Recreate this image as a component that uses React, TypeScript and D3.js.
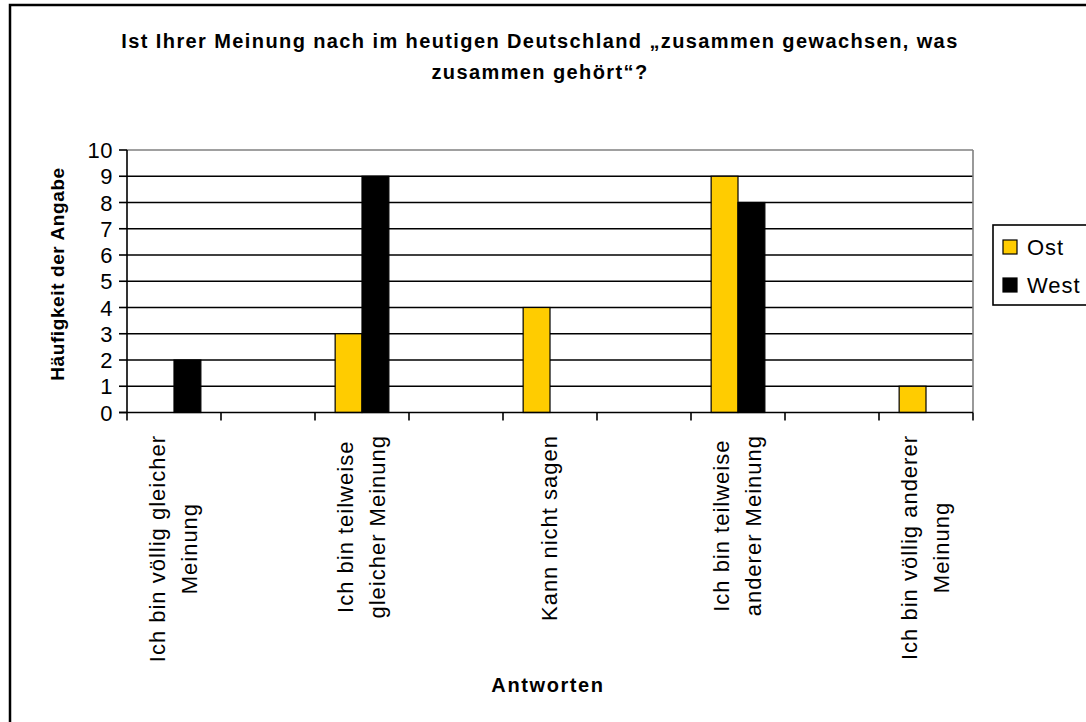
import React, { useEffect, useRef } from 'react'
import * as d3 from 'd3'

// categories (every other label is left blank, as in the original chart)
const categoryLabels = [
  'Ich bin völlig gleicher\nMeinung',
  '',
  'Ich bin teilweise\ngleicher Meinung',
  '',
  'Kann nicht sagen',
  '',
  'Ich bin teilweise\nanderer Meinung',
  '',
  'Ich bin völlig anderer\nMeinung',
]
const seriesNames = ['Ost', 'West']
const ostValues = [0, 0, 3, 0, 4, 0, 9, 0, 1]
const westValues = [2, 0, 9, 0, 0, 0, 8, 0, 0]
const yTickValues = [0, 1, 2, 3, 4, 5, 6, 7, 8, 9, 10]
const titleLines = ['Ist Ihrer Meinung nach im heutigen Deutschland „zusammen gewachsen, was', 'zusammen gehört“?']
const yAxisTitle = 'Häufigkeit der Angabe'
const xAxisTitle = 'Antworten'

const colors: Record<string, string> = { Ost: '#FFCC00', West: '#000000' }
const FONT = "'Liberation Sans', Arial, sans-serif"

const W = 1086
const H = 722
const plot = { left: 127, right: 973, top: 150, bottom: 412.5 }

const App = () => {
  const ref = useRef<SVGSVGElement>(null)

  useEffect(() => {
    const svg = d3.select(ref.current)
    svg.selectAll('*').remove()

    const idx = categoryLabels.map((_, i) => String(i))
    const x = d3.scaleBand().domain(idx).range([plot.left, plot.right]).paddingInner(0).paddingOuter(0)
    const xs = d3.scaleBand().domain(seriesNames).range([0, x.bandwidth()]).paddingInner(0).paddingOuter(0.75)
    const y = d3.scaleLinear().domain([0, 10]).range([plot.bottom, plot.top])

    // outer chart border (cropped at right / bottom)
    svg.append('rect')
      .attr('x', 10).attr('y', 5).attr('width', W + 20).attr('height', H + 20)
      .attr('fill', 'white').attr('stroke', '#000').attr('stroke-width', 2.5)

    // title
    const title = svg.append('g').attr('font-family', FONT).attr('font-weight', 'bold')
      .attr('font-size', 20).attr('letter-spacing', 1.4).attr('text-anchor', 'middle')
    titleLines.forEach((t, i) => {
      title.append('text').attr('x', 540).attr('y', 48 + i * 31).text(t)
    })

    // gridlines
    svg.append('g').selectAll('line').data(yTickValues.filter(v => v > 0)).join('line')
      .attr('x1', plot.left).attr('x2', plot.right)
      .attr('y1', d => y(d)).attr('y2', d => y(d))
      .attr('stroke', d => (d === 10 ? '#808080' : '#000')).attr('stroke-width', 1.6)

    // plot area right border
    svg.append('line').attr('x1', plot.right).attr('x2', plot.right)
      .attr('y1', plot.top).attr('y2', plot.bottom)
      .attr('stroke', '#808080').attr('stroke-width', 1.6)

    // bars
    const rows = idx.map((k, i) => ({ k, Ost: ostValues[i], West: westValues[i] }))
    const groups = svg.append('g').selectAll('g').data(rows).join('g')
      .attr('transform', d => `translate(${x(d.k)},0)`)
    groups.selectAll('rect')
      .data(d => seriesNames.map(s => ({ s, v: (d as any)[s] as number })).filter(e => e.v > 0))
      .join('rect')
      .attr('x', d => xs(d.s)!)
      .attr('width', xs.bandwidth())
      .attr('y', d => y(d.v))
      .attr('height', d => y(0) - y(d.v))
      .attr('fill', d => colors[d.s])
      .attr('stroke', '#000').attr('stroke-width', 1.2)

    // y axis
    svg.append('line').attr('x1', plot.left).attr('x2', plot.left)
      .attr('y1', plot.top).attr('y2', plot.bottom).attr('stroke', '#000').attr('stroke-width', 1.6)
    svg.append('g').selectAll('line').data(yTickValues).join('line')
      .attr('x1', plot.left - 8).attr('x2', plot.left)
      .attr('y1', d => y(d)).attr('y2', d => y(d))
      .attr('stroke', '#000').attr('stroke-width', 1.6)
    svg.append('g').selectAll('text').data(yTickValues).join('text')
      .attr('x', plot.left - 14).attr('y', d => y(d) + 8)
      .attr('text-anchor', 'end').attr('font-family', FONT).attr('font-size', 22)
      .attr('letter-spacing', 0.5)
      .text(d => d)

    // x axis
    svg.append('line').attr('x1', plot.left - 8).attr('x2', plot.right)
      .attr('y1', plot.bottom).attr('y2', plot.bottom).attr('stroke', '#000').attr('stroke-width', 1.6)
    const bounds = idx.map(k => x(k)!).concat([plot.right])
    svg.append('g').selectAll('line').data(bounds).join('line')
      .attr('x1', d => d).attr('x2', d => d)
      .attr('y1', plot.bottom).attr('y2', plot.bottom + 8)
      .attr('stroke', '#000').attr('stroke-width', 1.6)

    // category labels, rotated, lines centred on each other
    const catG = svg.append('g').attr('font-family', FONT).attr('font-size', 22).attr('letter-spacing', 1)
    categoryLabels.forEach((label, i) => {
      if (!label) return
      const lines = label.split('\n')
      const cx = x(String(i))! + x.bandwidth() / 2
      const g = catG.append('g')
      const texts = lines.map((ln, j) =>
        g.append('text').attr('text-anchor', 'middle')
          .attr('x', 0).attr('y', 7 + (j - (lines.length - 1) / 2) * 32).text(ln))
      const maxLen = d3.max(texts, t => (t.node() as SVGTextElement).getComputedTextLength()) || 0
      g.attr('transform', `translate(${cx},${435 + maxLen / 2}) rotate(-90)`)
    })

    // axis titles
    svg.append('text').attr('x', (plot.left + plot.right) / 2 - 2).attr('y', 692)
      .attr('text-anchor', 'middle').attr('font-family', FONT).attr('font-weight', 'bold')
      .attr('font-size', 20).attr('letter-spacing', 1.6).text(xAxisTitle)
    svg.append('text').attr('transform', `translate(64,274) rotate(-90)`)
      .attr('text-anchor', 'middle').attr('font-family', FONT).attr('font-weight', 'bold')
      .attr('font-size', 19).attr('letter-spacing', 0.6).text(yAxisTitle)

    // legend
    const lg = svg.append('g')
    lg.append('rect').attr('x', 993).attr('y', 225).attr('width', 120).attr('height', 80)
      .attr('fill', 'white').attr('stroke', '#000').attr('stroke-width', 1.6)
    seriesNames.forEach((s, i) => {
      const yy = 240 + i * 38
      lg.append('rect').attr('x', 1003).attr('y', yy).attr('width', 14).attr('height', 14)
        .attr('fill', colors[s]).attr('stroke', '#000').attr('stroke-width', 1.2)
      lg.append('text').attr('x', 1027).attr('y', yy + 15)
        .attr('font-family', FONT).attr('font-size', 22).attr('letter-spacing', 1).text(s)
    })
  }, [])

  return (
    <svg ref={ref} width={W} height={H} style={{ position: 'absolute', left: 0, top: 0, background: 'white' }} />
  )
}

export default App
